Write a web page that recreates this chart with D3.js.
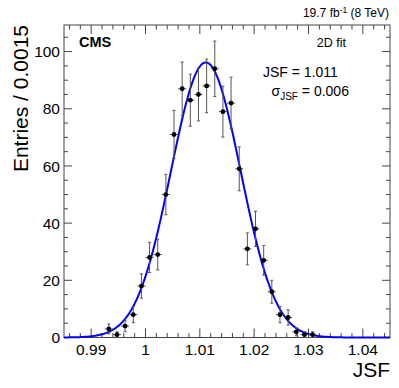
<!DOCTYPE html>
<html><head><meta charset="utf-8">
<script src="https://cdn.jsdelivr.net/npm/d3@7"></script>
<style>
html,body{margin:0;padding:0;background:#fff;}
text{font-family:"Liberation Sans",Arial,Helvetica,sans-serif;}
</style></head>
<body><svg id="c" width="399" height="388"></svg>
<script>
// ---- data ----
const binCenters = [0.99325,0.99475,0.99625,0.99775,0.99925,1.00075,1.00225,1.00375,1.00525,1.00675,1.00825,1.00975,1.01125,1.01275,1.01425,1.01575,1.01725,1.01875,1.02025,1.02175,1.02325,1.02475,1.02625,1.02775,1.02925,1.03075];
const entries    = [3,1,4,8,18,28,29,50,71,87,83,85,88,94,79,82,59,31,38,27,16,8,7,2,1,1];
const binWidth = 0.0015;
const xTicks = [0.99,1,1.01,1.02,1.03,1.04];
const xTickLabels = ["0.99","1","1.01","1.02","1.03","1.04"];
const yTicks = [0,20,40,60,80,100];
const yTickLabels = ["0","20","40","60","80","100"];
// Gaussian fit parameters
const fitAmp = 96.2, fitMean = 1.0111, fitSigma = 0.0064;
const xDomain = [0.985, 1.045];
const yDomain = [0, 109.3];

// ---- layout ----
const L = 64, R = 390, T = 25, B = 337.5;
const svg = d3.select("#c");
const x = d3.scaleLinear().domain(xDomain).range([L, R]);
const y = d3.scaleLinear().domain(yDomain).range([B, T]);
const axisCol = "#444";

// frame
svg.append("rect").attr("x",L).attr("y",T).attr("width",R-L).attr("height",B-T)
  .attr("fill","none").attr("stroke",axisCol).attr("stroke-width",1);

// x ticks (bottom + top)
const xMinor = d3.range(0.986, 1.0451, 0.002).map(v=>+v.toFixed(4));
const g = svg.append("g").attr("stroke",axisCol).attr("stroke-width",1);
xMinor.forEach(v=>{
  const major = xTicks.some(t=>Math.abs(t-v)<1e-6);
  const len = major ? 9 : 4.5;
  g.append("line").attr("x1",x(v)).attr("x2",x(v)).attr("y1",B).attr("y2",B-len);
  g.append("line").attr("x1",x(v)).attr("x2",x(v)).attr("y1",T).attr("y2",T+len);
});
// y ticks (left + right)
const yMinor = d3.range(0, 109, 5);
yMinor.forEach(v=>{
  const major = v % 20 === 0;
  const len = major ? 8 : 4;
  g.append("line").attr("x1",L).attr("x2",L+len).attr("y1",y(v)).attr("y2",y(v));
  g.append("line").attr("x1",R).attr("x2",R-len).attr("y1",y(v)).attr("y2",y(v));
});

// tick labels
svg.append("g").selectAll("text").data(xTicks).join("text")
  .attr("x",d=>x(d)).attr("y",355).attr("text-anchor","middle")
  .attr("font-size",15.5).attr("fill","#000").text((d,i)=>xTickLabels[i]);
svg.append("g").selectAll("text").data(yTicks).join("text")
  .attr("x",60).attr("y",d=>y(d)).attr("dy","0.36em").attr("text-anchor","end")
  .attr("font-size",15.5).attr("fill","#000").text((d,i)=>yTickLabels[i]);

// axis titles
svg.append("text").attr("x",390).attr("y",377).attr("text-anchor","end")
  .attr("font-size",21).text("JSF");
svg.append("text").attr("transform","translate(28,25) rotate(-90)").attr("text-anchor","end")
  .attr("font-size",21).text("Entries / 0.0015");

// fit curve
const curveX = d3.range(xDomain[0], xDomain[1]+1e-9, 0.0002);
const gauss = v => fitAmp*Math.exp(-0.5*Math.pow((v-fitMean)/fitSigma,2));
svg.append("path").datum(curveX)
  .attr("d", d3.line().x(d=>x(d)).y(d=>y(gauss(d))))
  .attr("fill","none").attr("stroke","#0000ff").attr("stroke-width",2);

// data points with errors
const pts = binCenters.map((c,i)=>({c, n: entries[i]}));
const eg = svg.append("g").attr("stroke","#555").attr("stroke-width",1);
pts.forEach(p=>{
  const e = Math.sqrt(p.n);
  const top = Math.max(y(p.n+e), T);
  eg.append("line").attr("x1",x(p.c)).attr("x2",x(p.c)).attr("y1",y(Math.max(p.n-e,0))).attr("y2",top);
  eg.append("line").attr("x1",x(p.c-binWidth/2)).attr("x2",x(p.c+binWidth/2)).attr("y1",y(p.n)).attr("y2",y(p.n));
  if (y(p.n+e) > T) eg.append("line").attr("x1",x(p.c)-1.5).attr("x2",x(p.c)+1.5).attr("y1",top).attr("y2",top);
  eg.append("line").attr("x1",x(p.c)-1.5).attr("x2",x(p.c)+1.5).attr("y1",y(Math.max(p.n-e,0))).attr("y2",y(Math.max(p.n-e,0)));
});
svg.append("g").selectAll("circle").data(pts).join("circle")
  .attr("cx",d=>x(d.c)).attr("cy",d=>y(d.n)).attr("r",2.4).attr("fill","#000");

// labels
const lumi = svg.append("text").attr("x",389).attr("y",17).attr("text-anchor","end").attr("font-size",12);
lumi.append("tspan").text("19.7 fb");
lumi.append("tspan").attr("font-size",8.5).attr("dy",-4.5).text("-1");
lumi.append("tspan").attr("dy",4.5).text(" (8 TeV)");

svg.append("text").attr("x",79).attr("y",47).attr("font-size",14.5).attr("font-weight","bold").text("CMS");
svg.append("text").attr("x",346).attr("y",47).attr("text-anchor","end").attr("font-size",12.5).text("2D fit");

svg.append("text").attr("x",263).attr("y",77).attr("font-size",14).text("JSF = 1.011");
const sg = svg.append("text").attr("x",271.5).attr("y",96).attr("font-size",14);
sg.append("tspan").text("σ");
sg.append("tspan").attr("font-size",10).attr("dy",3.5).text("JSF");
sg.append("tspan").attr("dy",-3.5).text(" = 0.006");
</script></body></html>
